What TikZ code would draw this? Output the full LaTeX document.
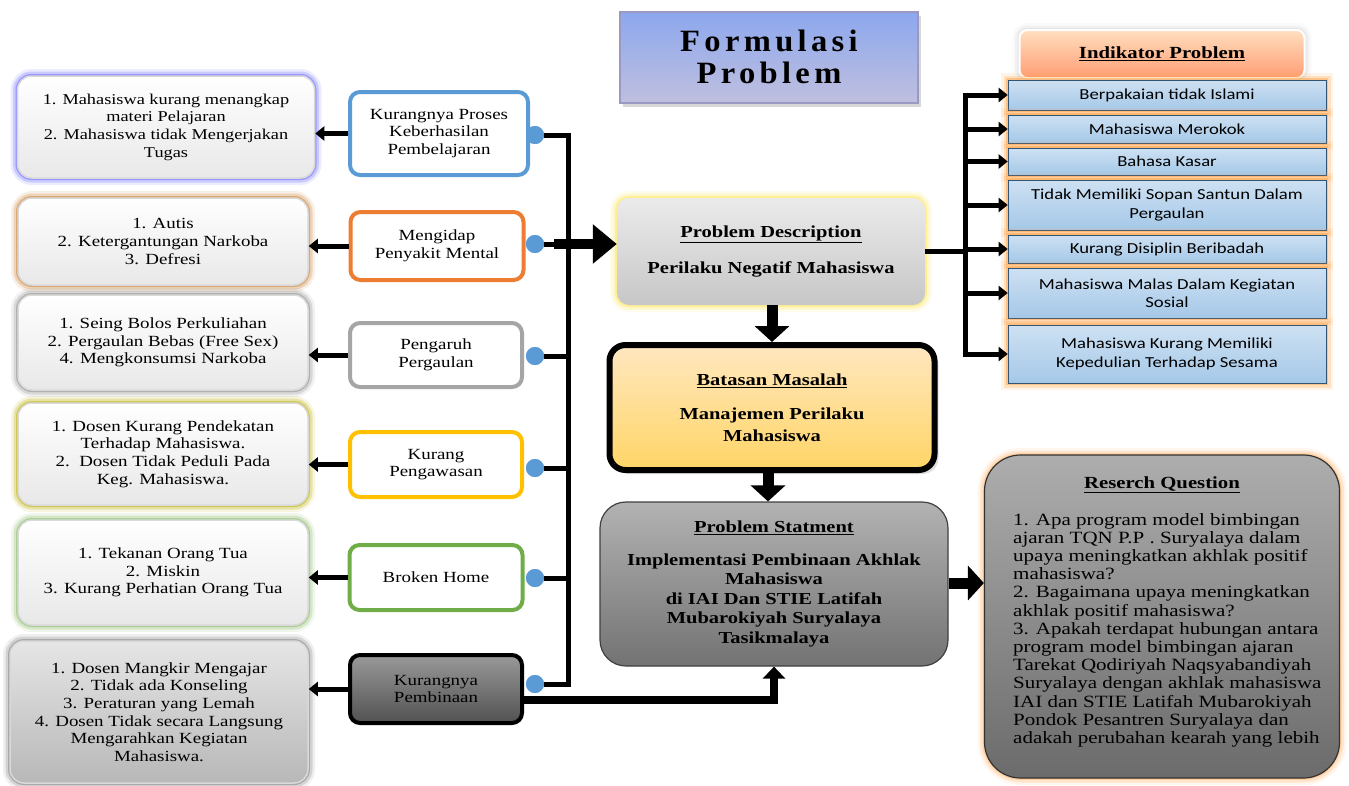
\documentclass[tikz,border=0pt]{standalone}
\usepackage{fontspec}
\setmainfont{Liberation Serif}[FakeStretch=1.22]
\newfontfamily\calib{Carlito}[FakeStretch=1.22]
\newfontfamily\titlefont{Liberation Serif}[LetterSpace=14,FakeStretch=1.05]
\usetikzlibrary{arrows.meta,shadows}
\definecolor{cblue}{HTML}{5B9BD5}
\definecolor{corange}{HTML}{ED7D31}
\definecolor{cgray}{HTML}{A5A5A5}
\definecolor{cgold}{HTML}{FFC000}
\definecolor{cgreen}{HTML}{70AD47}
\definecolor{dotblue}{HTML}{5B9BD5}
\begin{document}
\begin{tikzpicture}[x=1pt,y=-1pt,
  glow/.style={preaction={draw=#1,line width=14pt,opacity=0.12},
               preaction={draw=#1,line width=9pt,opacity=0.25},
               preaction={draw=#1,line width=4pt,opacity=0.5}},
  detail/.style={rounded corners=14pt,draw=white!85!black,line width=1.5pt,
     top color=white,bottom color=black!9,inner sep=0pt,align=center,
     font=\fontsize{15.5}{17.7}\selectfont},
  cat/.style={rounded corners=10pt,draw=#1,line width=4pt,fill=white,
     minimum width=172pt,minimum height=65pt,inner sep=0pt,align=center,
     font=\fontsize{15.5}{17.7}\selectfont},
  dot/.style={circle,fill=dotblue,minimum size=18pt,inner sep=0pt},
  conn/.style={line width=5pt},
  leftarr/.style={line width=5pt,-{Triangle[length=9pt,width=14pt]}},
  bigarr/.style={line width=11pt,-{Triangle[length=16pt,width=34pt]}},
  indic/.style={draw=black!45!cblue,line width=0.6pt,top color=cblue!30,bottom color=cblue!55,
     minimum width=318pt,inner sep=0pt,align=center,glow=orange!70,
     font=\calib\fontsize{15.3}{18.5}\selectfont},
  hdtext/.style={font=\bfseries\fontsize{16.8}{19.5}\selectfont,align=center}
]
\useasboundingbox (0,0) rectangle (1349,785);
\fill[white] (0,0) rectangle (1349,785);

% Title
\node[draw=black!60!blue!40,line width=2pt,top color=blue!30!cblue!60,bottom color=blue!50!black!25!white,
  minimum width=298pt,minimum height=91pt,inner sep=0pt,align=center,
  drop shadow={opacity=0.3,shadow xshift=3pt,shadow yshift=-4pt},
  font=\titlefont\bfseries\fontsize{31}{32}\selectfont] (title) at (769,57) {Formulasi\\Problem};

% Detail boxes (left)
\node[detail,glow=blue!60,minimum width=297pt,minimum height=102pt,font=\fontsize{15}{17.7}\selectfont] (d1) at (166,127)
 {1. Mahasiswa kurang menangkap\\materi Pelajaran\\2. Mahasiswa tidak Mengerjakan\\Tugas};
\node[detail,glow=brown!80!orange,minimum width=290pt,minimum height=87pt] (d2) at (163,241.5)
 {1. Autis\\2. Ketergantungan Narkoba\\3. Defresi};
\node[detail,glow=black!45,minimum width=290pt,minimum height=95pt] (d3) at (163,342.5)
 {1. Seing Bolos Perkuliahan\\2. Pergaulan Bebas (Free Sex)\\4. Mengkonsumsi Narkoba};
\node[detail,glow=olive!60!yellow,minimum width=290pt,minimum height=102pt] (d4) at (163,454)
 {1. Dosen Kurang Pendekatan\\Terhadap Mahasiswa.\\2.\ \ Dosen Tidak Peduli Pada\\Keg. Mahasiswa.};
\node[detail,glow=cgreen!85,minimum width=290pt,minimum height=105pt] (d5) at (163,572.5)
 {1. Tekanan Orang Tua\\2. Miskin\\3. Kurang Perhatian Orang Tua};
\node[detail,glow=black!50,top color=black!10,bottom color=black!28,minimum width=298pt,minimum height=142pt] (d6) at (159,712)
 {1. Dosen Mangkir Mengajar\\2. Tidak ada Konseling\\3. Peraturan yang Lemah\\4. Dosen Tidak secara Langsung\\Mengarahkan Kegiatan\\Mahasiswa.};

% Category boxes
\node[cat=cblue,minimum width=178pt,minimum height=83pt] (c1) at (439,133.5) {Kurangnya Proses\\Keberhasilan\\Pembelajaran};
\node[cat=corange,minimum width=173pt,minimum height=68pt] (c2) at (437,246) {Mengidap\\Penyakit Mental};
\node[cat=cgray,minimum height=64pt] (c3) at (436,355) {Pengaruh\\Pergaulan};
\node[cat=cgold] (c4) at (436,464.5) {Kurang\\Pengawasan};
\node[cat=cgreen,minimum width=173pt] (c5) at (436,577.5) {Broken Home};
\node[cat=black,top color=black!40,bottom color=black!68,minimum height=68pt] (c6) at (436,689) {Kurangnya\\Pembinaan};

% arrows category -> detail
\foreach \c/\d in {c1/d1,c2/d2,c3/d3,c4/d4,c5/d5,c6/d6}
  \draw[leftarr] (\c.west) -- (\c.west -| \d.east);

% left bar
\coordinate (lbar) at (568,0);
\node[dot] (o1) at (535,135) {};
\node[dot] (o2) at (535,244) {};
\node[dot] (o3) at (535,356) {};
\node[dot] (o4) at (535,468) {};
\node[dot] (o5) at (535,578) {};
\node[dot] (o6) at (535,684) {};
\foreach \o in {o1,o2,o3,o4,o5,o6}
  \draw[conn] (\o.east) -- ([xshift=2.5pt]lbar |- \o);
\draw[conn] (lbar |- o1) -- (lbar |- o6);
\foreach \o in {o1,o2,o3,o4,o5,o6} \node[dot] at (\o) {};

% Problem Description
\node[rounded corners=12pt,glow=yellow!80!orange!60,top color=black!8,bottom color=black!22,
  minimum width=308pt,minimum height=107pt,inner sep=0pt,hdtext] (PD) at (771,251.5)
  {\underline{Problem Description}\\[17pt]Perilaku Negatif Mahasiswa};
\draw[bigarr,line width=10pt,-{Triangle[length=24pt,width=38pt]}] ([xshift=-14pt]lbar |- o2) -- (PD.west |- o2);

% Batasan Masalah
\node[rounded corners=16pt,draw=black,line width=6pt,top color=yellow!25!orange!25,bottom color=orange!55!yellow!60,
  minimum width=325pt,minimum height=125pt,inner sep=0pt,font=\bfseries\fontsize{16.8}{21.5}\selectfont,align=center,
  drop shadow={opacity=0.25,shadow xshift=4pt,shadow yshift=-4pt}] (BM) at (772,407.5)
  {\underline{Batasan Masalah}\\[13pt]Manajemen Perilaku\\Mahasiswa};
\draw[bigarr] (PD.south -| BM.north) -- (BM.north);

% Problem Statment
\node[rounded corners=26pt,draw=black!75,line width=1.2pt,top color=black!30,bottom color=black!55,
  minimum width=348pt,minimum height=164pt,inner sep=0pt,hdtext] (PS) at (774,584)
  {\underline{Problem Statment}\\[13pt]Implementasi Pembinaan Akhlak\\Mahasiswa\\di IAI Dan STIE Latifah\\Mubarokiyah Suryalaya\\Tasikmalaya};
\draw[bigarr] ([xshift=-4pt]BM.south) -- ([xshift=-4pt]BM.south |- PS.north);
\draw[line width=8pt,-{Triangle[length=12pt,width=22pt]}] ([yshift=-11pt]c6.east) -| (PS.south);

% Research Question
\node[rounded corners=36pt,draw=black!80,line width=1.2pt,glow=orange!55,top color=black!32,bottom color=black!58,
  minimum width=355pt,minimum height=323pt,inner sep=0pt] (RQ) at (1162,616.5) {};
\node[font=\bfseries\fontsize{17}{20}\selectfont] (rqt) at (1162,485) {\underline{Reserch Question}};
\node[anchor=north west,inner sep=0pt,align=left,font=\fontsize{17.2}{18.2}\selectfont] (rqb) at (1013,513)
 {1. Apa program model bimbingan\\ajaran TQN P.P . Suryalaya dalam\\upaya meningkatkan akhlak positif\\mahasiswa?\\2. Bagaimana upaya meningkatkan\\akhlak positif mahasiswa?\\3. Apakah terdapat hubungan antara\\program model bimbingan ajaran\\Tarekat Qodiriyah Naqsyabandiyah\\Suryalaya dengan akhlak mahasiswa\\IAI dan STIE Latifah Mubarokiyah\\Pondok Pesantren Suryalaya dan\\adakah perubahan kearah yang lebih};
\draw[bigarr] (PS.east |- 0,583) -- (RQ.west |- 0,583);

% Indikator
\node[rounded corners=8pt,draw=white,line width=2pt,glow=black!15,top color=orange!25,bottom color=orange!60!red!55,
  minimum width=285pt,minimum height=48pt,inner sep=0pt,font=\bfseries\fontsize{17}{20}\selectfont] (IH) at (1162,54)
  {\underline{Indikator Problem}};
\node[indic,minimum height=30pt] (i1) at (1167,95) {Berpakaian tidak Islami};
\node[indic,minimum height=28pt] (i2) at (1167,129) {Mahasiswa Merokok};
\node[indic,minimum height=27pt] (i3) at (1167,161.5) {Bahasa Kasar};
\node[indic,minimum height=50pt] (i4) at (1167,205) {Tidak Memiliki Sopan Santun Dalam\\Pergaulan};
\node[indic,minimum height=28pt] (i5) at (1167,249) {Kurang Disiplin Beribadah};
\node[indic,minimum height=50pt] (i6) at (1167,293) {Mahasiswa Malas Dalam Kegiatan\\Sosial};
\node[indic,minimum height=58pt] (i7) at (1167,354) {Mahasiswa Kurang Memiliki\\Kepedulian Terhadap Sesama};

\coordinate (rbar) at (965,0);
\draw[conn] (PD.east |- 0,251) -- (rbar |- 0,251);
\draw[conn] ([yshift=2.5pt]rbar |- i1.west) -- ([yshift=-2.5pt]rbar |- i7.west);
\foreach \i in {i1,i2,i3,i4,i5,i6,i7}
  \draw[line width=5pt,-{Triangle[length=9pt,width=14pt]}] ([xshift=-2.5pt]rbar |- \i.west) -- (\i.west);
\end{tikzpicture}
\end{document}
